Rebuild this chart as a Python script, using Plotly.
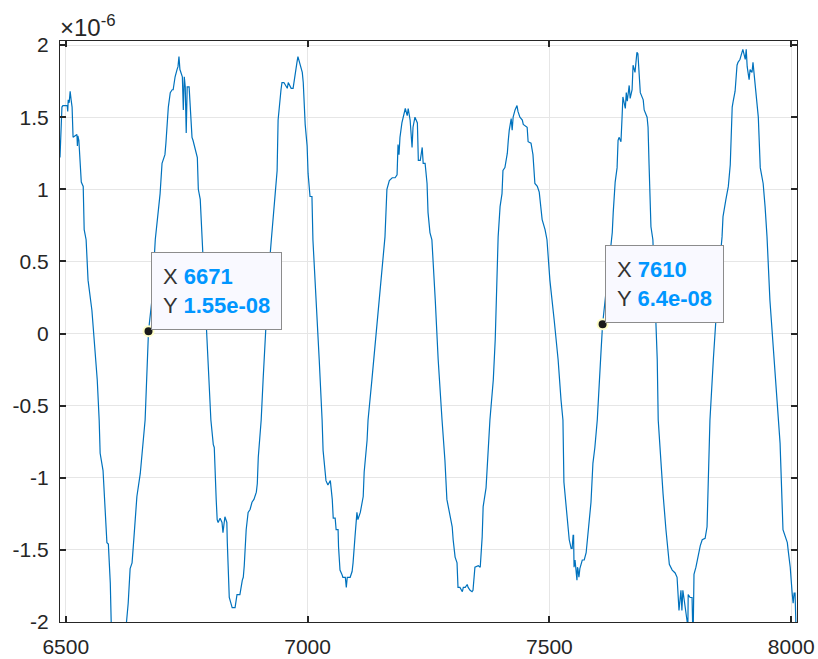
import plotly.graph_objects as go

# Sample index and signal (in units of 1e-6)
x_idx = [
    6488, 6492, 6494, 6503, 6504, 6505, 6507, 6509, 6511, 6513, 6515, 6523, 6524, 6525, 6527,
    6532, 6536, 6538, 6542, 6546, 6554, 6561, 6565, 6569, 6571, 6577, 6579, 6581, 6585, 6588,
    6592, 6594, 6600, 6606, 6614, 6625, 6629, 6633, 6637, 6641, 6647, 6654, 6660, 6664, 6671,
    6678, 6685, 6689, 6691, 6695, 6699, 6705, 6707, 6712, 6716, 6720, 6722, 6726, 6730, 6732,
    6734, 6736, 6741, 6743, 6745, 6747, 6749, 6751, 6755, 6761, 6763, 6769, 6772, 6774, 6778,
    6782, 6788, 6794, 6800, 6805, 6807, 6811, 6813, 6815, 6819, 6823, 6825, 6829, 6833, 6834,
    6838, 6844, 6850, 6854, 6860, 6865, 6867, 6869, 6873, 6877, 6881, 6885, 6889, 6894, 6896,
    6898, 6902, 6904, 6908, 6912, 6916, 6920, 6925, 6929, 6933, 6937, 6939, 6945, 6947, 6951,
    6958, 6960, 6966, 6970, 6974, 6978, 6980, 6985, 6989, 6991, 6995, 6999, 7001, 7005, 7009,
    7011, 7018, 7024, 7030, 7032, 7038, 7042, 7047, 7051, 7053, 7057, 7059, 7063, 7064, 7067,
    7071, 7073, 7078, 7080, 7082, 7088, 7092, 7094, 7098, 7102, 7104, 7109, 7115, 7117, 7123,
    7125, 7133, 7142, 7150, 7160, 7164, 7169, 7175, 7181, 7185, 7187, 7189, 7191, 7195, 7198,
    7202, 7206, 7208, 7212, 7216, 7218, 7222, 7227, 7229, 7233, 7237, 7239, 7243, 7247, 7249,
    7253, 7257, 7264, 7270, 7278, 7284, 7288, 7295, 7299, 7301, 7305, 7309, 7311, 7315, 7320,
    7322, 7326, 7330, 7332, 7336, 7340, 7342, 7346, 7353, 7357, 7361, 7363, 7369, 7373, 7377,
    7384, 7388, 7394, 7398, 7402, 7404, 7408, 7413, 7415, 7417, 7421, 7423, 7425, 7429, 7433,
    7435, 7439, 7444, 7446, 7454, 7456, 7462, 7466, 7470, 7475, 7479, 7485, 7491, 7495, 7501,
    7510, 7518, 7524, 7528, 7530, 7535, 7537, 7541, 7545, 7547, 7549, 7550, 7551, 7553, 7557,
    7558, 7559, 7561, 7563, 7568, 7572, 7576, 7578, 7582, 7586, 7590, 7594, 7599, 7603, 7607,
    7610, 7617, 7623, 7630, 7632, 7636, 7640, 7642, 7644, 7648, 7650, 7652, 7657, 7659, 7661,
    7665, 7667, 7671, 7673, 7677, 7679, 7681, 7683, 7688, 7694, 7696, 7702, 7704, 7706, 7710,
    7714, 7719, 7723, 7725, 7729, 7733, 7735, 7741, 7745, 7748, 7754, 7760, 7764, 7766, 7768,
    7772, 7774, 7776, 7781, 7785, 7786, 7787, 7791, 7795, 7797, 7799, 7803, 7808, 7812, 7816,
    7822, 7826, 7828, 7832, 7839, 7845, 7851, 7857, 7859, 7865, 7870, 7874, 7878, 7880, 7884,
    7888, 7890, 7894, 7898, 7900, 7905, 7907, 7909, 7913, 7915, 7919, 7921, 7925, 7929, 7932,
    7936, 7942, 7946, 7950, 7956, 7965, 7973, 7977, 7983, 7989, 7992, 7994, 7998, 8002, 8004,
    8006, 8008, 8010,
]
y_micro = [
    1.22, 1.57, 1.58, 1.58, 1.54, 1.62, 1.60, 1.68, 1.62, 1.57, 1.36, 1.38, 1.30, 1.37, 1.34,
    1.05, 1.02, 0.72, 0.65, 0.37, 0.16, -0.11, -0.32, -0.60, -0.83, -0.95, -1.09, -1.27, -1.45, -1.46,
    -1.73, -2.02, -2.22, -2.30, -2.24, -2.02, -1.87, -1.63, -1.59, -1.41, -1.13, -0.97, -0.74, -0.60, 0.0155,
    0.23, 0.65, 0.77, 0.86, 0.97, 1.18, 1.24, 1.32, 1.57, 1.67, 1.69, 1.69, 1.78, 1.83, 1.85,
    1.92, 1.83, 1.78, 1.55, 1.78, 1.71, 1.39, 1.71, 1.71, 1.36, 1.34, 1.27, 1.22, 1.00, 0.93,
    0.65, 0.23, -0.18, -0.60, -0.77, -0.79, -1.15, -1.29, -1.31, -1.28, -1.31, -1.38, -1.27, -1.31, -1.45,
    -1.83, -1.90, -1.90, -1.81, -1.81, -1.71, -1.69, -1.61, -1.36, -1.24, -1.22, -1.17, -1.15, -1.10, -1.04,
    -0.86, -0.69, -0.60, -0.32, -0.04, 0.23, 0.44, 0.65, 0.79, 0.97, 1.13, 1.48, 1.69, 1.74, 1.74,
    1.70, 1.74, 1.70, 1.70, 1.81, 1.88, 1.92, 1.85, 1.81, 1.74, 1.45, 1.30, 1.11, 0.95, 0.95,
    0.65, 0.23, -0.18, -0.60, -0.81, -1.02, -1.05, -1.02, -1.15, -1.28, -1.28, -1.36, -1.36, -1.48, -1.64,
    -1.67, -1.69, -1.69, -1.76, -1.69, -1.69, -1.65, -1.59, -1.41, -1.24, -1.29, -1.24, -1.13, -0.96, -0.74,
    -0.60, -0.32, 0.02, 0.30, 0.67, 1.00, 1.06, 1.08, 1.08, 1.10, 1.31, 1.24, 1.36, 1.46, 1.51,
    1.56, 1.51, 1.56, 1.48, 1.29, 1.43, 1.50, 1.46, 1.20, 1.20, 1.29, 1.18, 1.18, 1.04, 0.84,
    0.70, 0.65, 0.23, -0.18, -0.60, -0.88, -1.15, -1.27, -1.34, -1.43, -1.55, -1.59, -1.76, -1.76, -1.79,
    -1.76, -1.76, -1.74, -1.76, -1.78, -1.79, -1.78, -1.62, -1.61, -1.62, -1.41, -1.20, -1.07, -0.81, -0.60,
    -0.32, -0.04, 0.67, 0.88, 0.97, 1.13, 1.15, 1.25, 1.34, 1.41, 1.49, 1.41, 1.50, 1.55, 1.58,
    1.54, 1.50, 1.48, 1.45, 1.43, 1.33, 1.32, 1.24, 1.04, 1.02, 0.98, 0.79, 0.72, 0.65, 0.37,
    0.09, -0.18, -0.46, -0.60, -1.03, -1.24, -1.29, -1.43, -1.49, -1.49, -1.40, -1.40, -1.62, -1.57, -1.71,
    -1.62, -1.63, -1.69, -1.63, -1.57, -1.57, -1.52, -1.45, -1.29, -1.17, -0.90, -0.79, -0.60, -0.39, -0.11,
    0.064, 0.30, 0.51, 0.70, 0.84, 1.05, 1.15, 1.34, 1.36, 1.33, 1.48, 1.64, 1.56, 1.67, 1.61,
    1.72, 1.63, 1.69, 1.86, 1.81, 1.88, 1.95, 1.94, 1.67, 1.62, 1.55, 1.50, 1.43, 1.18, 0.74,
    0.65, 0.23, -0.18, -0.60, -0.83, -1.00, -1.11, -1.36, -1.52, -1.60, -1.64, -1.66, -1.69, -1.78, -1.92,
    -1.78, -1.92, -1.78, -1.92, -2.00, -2.15, -1.81, -1.83, -1.83, -2.15, -1.67, -1.62, -1.52, -1.47, -1.43,
    -1.42, -1.34, -1.06, -0.60, -0.18, 0.16, 0.44, 0.67, 0.81, 0.93, 1.02, 1.17, 1.57, 1.61, 1.68,
    1.86, 1.88, 1.90, 1.95, 1.97, 1.90, 1.97, 1.85, 1.76, 1.83, 1.81, 1.88, 1.74, 1.57, 1.50,
    1.15, 1.04, 0.88, 0.67, 0.23, -0.18, -0.60, -0.76, -1.36, -1.43, -1.45, -1.51, -1.62, -1.80, -1.87,
    -1.80, -1.80, -2.05,
]
SCALE = 1e-6

# Data tips
tip_x = [6671, 7610]
tip_y = [1.55e-08, 6.4e-08]

x_ticks = [6500, 7000, 7500, 8000]
x_tick_labels = ["6500", "7000", "7500", "8000"]
y_ticks = [-2, -1.5, -1, -0.5, 0, 0.5, 1, 1.5, 2]
y_tick_labels = ["-2", "-1.5", "-1", "-0.5", "0", "0.5", "1", "1.5", "2"]

AX = "#262626"
FONT = "Liberation Sans, Arial, sans-serif"

fig = go.Figure()
fig.add_trace(go.Scatter(
    x=x_idx, y=[v * SCALE for v in y_micro], mode="lines",
    line=dict(color="#0072BD", width=1.2), hoverinfo="skip", showlegend=False,
))
fig.add_trace(go.Scatter(
    x=tip_x, y=tip_y, mode="markers",
    marker=dict(size=10, color="#1a1a1a", line=dict(color="#FFFFC8", width=2)),
    hoverinfo="skip", showlegend=False,
))

for tx, ty in zip(tip_x, tip_y):
    txt = (f"X <b><span style='color:#0096FF'>{tx}</span></b><br>"
           f"Y <b><span style='color:#0096FF'>{ty:.3g}</span></b>")
    fig.add_annotation(
        x=tx, y=ty, xref="x", yref="y", showarrow=False,
        xanchor="left", yanchor="bottom", xshift=2, yshift=1,
        align="left", text=txt, bgcolor="#F9F9FF", bordercolor="#8C8C8C",
        borderwidth=1, borderpad=11,
        font=dict(family=FONT, size=22, color="#333333"),
    )

fig.add_annotation(
    xref="paper", yref="paper", x=0, y=1, xanchor="left", yanchor="bottom",
    xshift=-2, yshift=-2, showarrow=False, text="×10<sup>-6</sup>",
    font=dict(family=FONT, size=24, color=AX),
)

axis_common = dict(
    showline=True, linecolor=AX, linewidth=1, mirror="ticks",
    ticks="inside", ticklen=6, tickwidth=1.5, tickcolor=AX,
    showgrid=True, gridcolor="#E6E6E6", gridwidth=1, automargin=False,
    zeroline=False, tickfont=dict(family=FONT, size=21, color=AX),
)

fig.update_layout(
    width=818, height=659,
    margin=dict(l=60, r=21, t=41, b=37),
    paper_bgcolor="white", plot_bgcolor="white",
    xaxis=dict(range=[6488, 8012], tickvals=x_ticks, ticktext=x_tick_labels,
               ticklabelstandoff=6, **axis_common),
    yaxis=dict(range=[-2.0e-6, 2.028e-6], tickvals=[v * SCALE for v in y_ticks],
               ticktext=y_tick_labels, ticklabelstandoff=6, **axis_common),
    showlegend=False,
)

fig.write_html("out.html")
